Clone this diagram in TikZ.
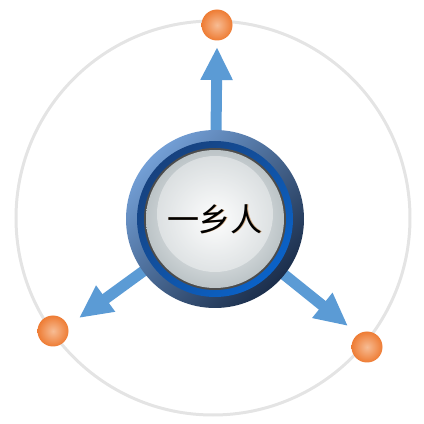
\documentclass[tikz,border=0pt]{standalone}
\usepackage{fontspec}
\newfontfamily\cjk{Noto Sans CJK SC}
\usetikzlibrary{arrows.meta}
\definecolor{ringgray}{HTML}{E4E4E4}
\definecolor{arrowblue}{HTML}{5B9BD5}
\definecolor{dotorange}{HTML}{EE7C34}
\definecolor{dotlight}{HTML}{F7BC94}
\definecolor{navylight}{HTML}{739FD6}
\definecolor{navydark}{HTML}{1B2E4B}
\definecolor{banddark}{HTML}{17427F}
\definecolor{bandblue}{HTML}{0A62C8}
\definecolor{facegray}{HTML}{BCC4C7}

\begin{document}
\begin{tikzpicture}[x=1pt,y=1pt,
    dot/.style={circle, minimum size=31pt, inner sep=0pt, inner color=dotlight, outer color=dotorange},
    spoke/.style={-{Triangle[length=33pt,width=30pt]}, line width=11pt, arrowblue}]
        \useasboundingbox (0,0) rectangle (424,424);

        % Outer orbit
        \draw[ringgray, line width=3pt] (213,206) circle (197);

        % Orbit points
        \node[dot] (top) at (217,399) {};
        \node[dot] (left) at (53,93) {};
        \node[dot] (right) at (367,77) {};

        % Hub centre and arrow tips
        \coordinate (hub) at (215,205);
        \coordinate (toptip) at (217,377);
        \coordinate (lefttip) at (79,106);
        \coordinate (righttip) at (348,98);

        % Spokes
        \draw[spoke] (hub) -- (toptip);
        \draw[spoke] (hub) -- (lefttip);
        \draw[spoke] (hub) -- (righttip);

        % Blue bevel ring
        \shade[left color=navylight, right color=navydark, shading angle=45] (hub) circle (89);
        \shade[left color=banddark, right color=bandblue, shading angle=45] (hub) circle (78);
        \fill[black!70] (hub) circle (71);

        % Glass face
        \shade[inner color=white!96!facegray, outer color=facegray] (hub) circle (69);
        \fill[white, opacity=0.4] (hub) ++(0,5) circle (58);

        % Label
        \node[text=orange!70!black, opacity=0.45] at ([shift={(0.8,-0.8)}]hub) {\cjk\fontsize{32}{32}\selectfont 一乡人};
        \node (name) at (hub) {\cjk\fontsize{32}{32}\selectfont 一乡人};
    \end{tikzpicture}
\end{document}
